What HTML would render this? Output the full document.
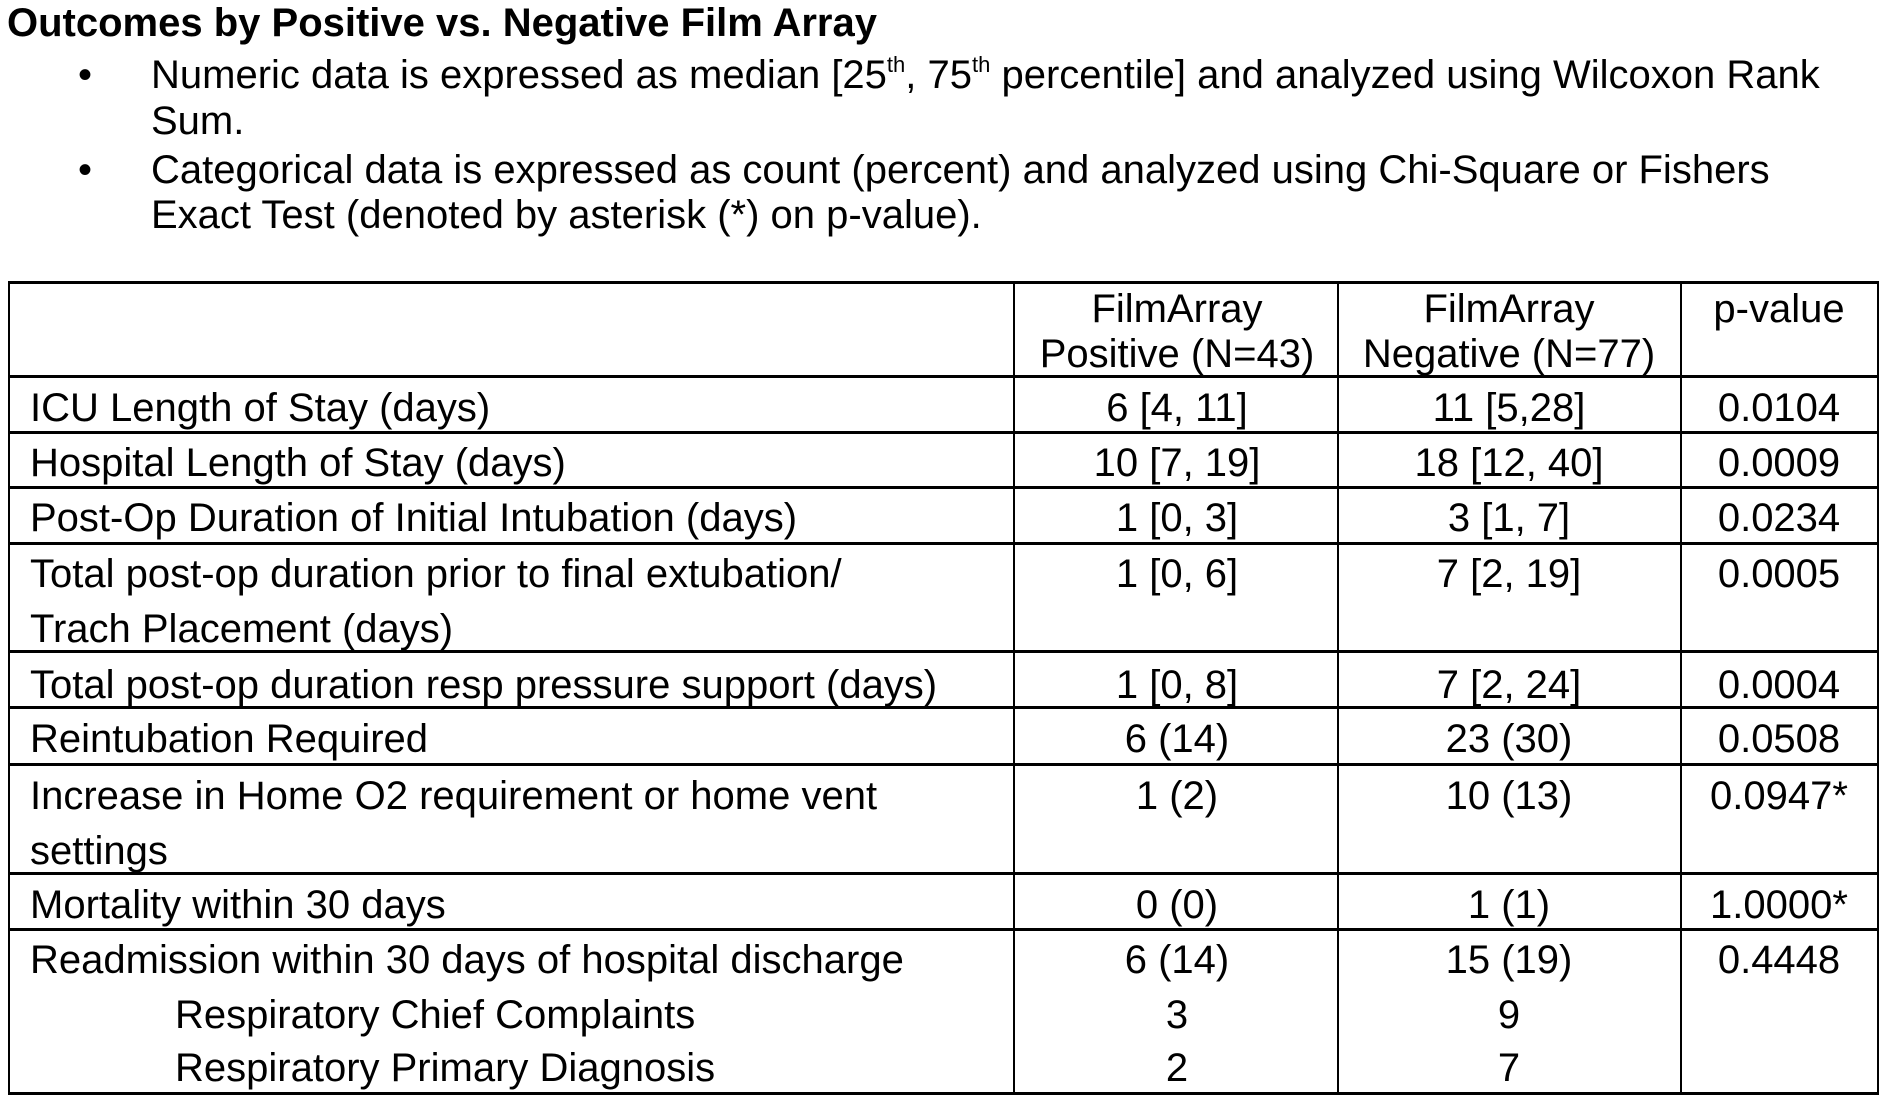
<!DOCTYPE html>
<html><head><meta charset="utf-8"><style>
body{margin:0;width:1893px;height:1103px;background:#fff;position:relative;overflow:hidden;font-family:"Liberation Sans",Arial,sans-serif;color:#000}
.t{position:absolute;white-space:nowrap;line-height:50px;height:50px}
.c{transform:translateX(-50%)}
.h{position:absolute;background:#000;height:3px}
.v{position:absolute;background:#000;width:2px}
.tb{font-size:40px;margin-top:2px}
.hd{font-size:40px}
.b{font-size:40px}
sup{font-size:55%;vertical-align:0;position:relative;top:-0.75em}
</style></head><body>
<div class="t" style="left:7px;top:-2px;font-size:40px;font-weight:bold">Outcomes by Positive vs. Negative Film Array</div>
<div class="t b" style="left:78px;top:50px">•</div>
<div class="t b" style="left:151px;top:50px">Numeric data is expressed as median [25<sup>th</sup>, 75<sup>th</sup> percentile] and analyzed using Wilcoxon Rank</div>
<div class="t b" style="left:151px;top:96px">Sum.</div>
<div class="t b" style="left:78px;top:145px">•</div>
<div class="t b" style="left:151px;top:145px">Categorical data is expressed as count (percent) and analyzed using Chi-Square or Fishers</div>
<div class="t b" style="left:151px;top:190px">Exact Test (denoted by asterisk (*) on p-value).</div>

<div class="h" style="left:8px;width:1871px;top:281px"></div>
<div class="h" style="left:8px;width:1871px;top:375px"></div>
<div class="h" style="left:8px;width:1871px;top:431px"></div>
<div class="h" style="left:8px;width:1871px;top:486px"></div>
<div class="h" style="left:8px;width:1871px;top:542px"></div>
<div class="h" style="left:8px;width:1871px;top:650px"></div>
<div class="h" style="left:8px;width:1871px;top:706px"></div>
<div class="h" style="left:8px;width:1871px;top:763px"></div>
<div class="h" style="left:8px;width:1871px;top:872px"></div>
<div class="h" style="left:8px;width:1871px;top:928px"></div>
<div class="h" style="left:8px;width:1871px;top:1092px"></div>
<div class="v" style="left:8px;top:281px;height:814px"></div>
<div class="v" style="left:1013px;top:281px;height:814px"></div>
<div class="v" style="left:1337px;top:281px;height:814px"></div>
<div class="v" style="left:1680px;top:281px;height:814px"></div>
<div class="v" style="left:1877px;top:281px;height:814px"></div>

<div class="t hd c" style="left:1177px;top:284px">FilmArray</div>
<div class="t hd c" style="left:1177px;top:329px">Positive (N=43)</div>
<div class="t hd c" style="left:1509px;top:284px">FilmArray</div>
<div class="t hd c" style="left:1509px;top:329px">Negative (N=77)</div>
<div class="t hd c" style="left:1779px;top:284px">p-value</div>

<div class="t tb" style="left:30px;top:381px">ICU Length of Stay (days)</div>
<div class="t tb c" style="left:1177px;top:381px">6 [4, 11]</div>
<div class="t tb c" style="left:1509px;top:381px">11 [5,28]</div>
<div class="t tb c" style="left:1779px;top:381px">0.0104</div>

<div class="t tb" style="left:30px;top:436px">Hospital Length of Stay (days)</div>
<div class="t tb c" style="left:1177px;top:436px">10 [7, 19]</div>
<div class="t tb c" style="left:1509px;top:436px">18 [12, 40]</div>
<div class="t tb c" style="left:1779px;top:436px">0.0009</div>

<div class="t tb" style="left:30px;top:491px">Post-Op Duration of Initial Intubation (days)</div>
<div class="t tb c" style="left:1177px;top:491px">1 [0, 3]</div>
<div class="t tb c" style="left:1509px;top:491px">3 [1, 7]</div>
<div class="t tb c" style="left:1779px;top:491px">0.0234</div>

<div class="t tb" style="left:30px;top:547px">Total post-op duration prior to final extubation/</div>
<div class="t tb" style="left:30px;top:602px">Trach Placement (days)</div>
<div class="t tb c" style="left:1177px;top:547px">1 [0, 6]</div>
<div class="t tb c" style="left:1509px;top:547px">7 [2, 19]</div>
<div class="t tb c" style="left:1779px;top:547px">0.0005</div>

<div class="t tb" style="left:30px;top:658px">Total post-op duration resp pressure support (days)</div>
<div class="t tb c" style="left:1177px;top:658px">1 [0, 8]</div>
<div class="t tb c" style="left:1509px;top:658px">7 [2, 24]</div>
<div class="t tb c" style="left:1779px;top:658px">0.0004</div>

<div class="t tb" style="left:30px;top:712px">Reintubation Required</div>
<div class="t tb c" style="left:1177px;top:712px">6 (14)</div>
<div class="t tb c" style="left:1509px;top:712px">23 (30)</div>
<div class="t tb c" style="left:1779px;top:712px">0.0508</div>

<div class="t tb" style="left:30px;top:769px">Increase in Home O2 requirement or home vent</div>
<div class="t tb" style="left:30px;top:824px">settings</div>
<div class="t tb c" style="left:1177px;top:769px">1 (2)</div>
<div class="t tb c" style="left:1509px;top:769px">10 (13)</div>
<div class="t tb c" style="left:1779px;top:769px">0.0947*</div>

<div class="t tb" style="left:30px;top:878px">Mortality within 30 days</div>
<div class="t tb c" style="left:1177px;top:878px">0 (0)</div>
<div class="t tb c" style="left:1509px;top:878px">1 (1)</div>
<div class="t tb c" style="left:1779px;top:878px">1.0000*</div>

<div class="t tb" style="left:30px;top:933px">Readmission within 30 days of hospital discharge</div>
<div class="t tb c" style="left:1177px;top:933px">6 (14)</div>
<div class="t tb c" style="left:1509px;top:933px">15 (19)</div>
<div class="t tb c" style="left:1779px;top:933px">0.4448</div>

<div class="t tb" style="left:175px;top:988px">Respiratory Chief Complaints</div>
<div class="t tb c" style="left:1177px;top:988px">3</div>
<div class="t tb c" style="left:1509px;top:988px">9</div>

<div class="t tb" style="left:175px;top:1041px">Respiratory Primary Diagnosis</div>
<div class="t tb c" style="left:1177px;top:1041px">2</div>
<div class="t tb c" style="left:1509px;top:1041px">7</div>
</body></html>
